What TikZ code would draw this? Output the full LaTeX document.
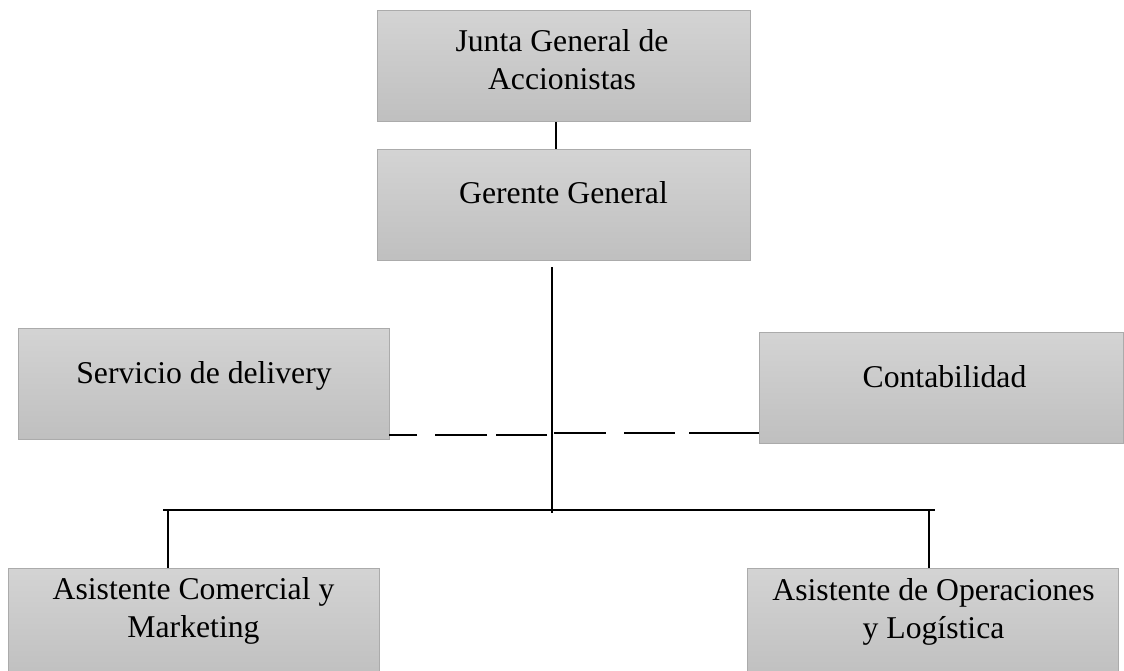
\documentclass[tikz,border=0pt]{standalone}
\usepackage{fontspec}
\setmainfont{Liberation Serif}
\usepackage{tikz}
\usetikzlibrary{shapes}

\begin{document}
\begin{tikzpicture}[x=1pt,y=-1pt,
  caja/.style={shape=rectangle,draw=black!33,line width=0.9pt,top color=black!17,bottom color=black!25,minimum width=#1,minimum height=111pt,inner sep=0pt},
  texto/.style={align=center,anchor=base,inner sep=0pt,font=\fontsize{31.7}{38}\selectfont},
  linea/.style={-,draw=black,line width=1.6pt}]
\useasboundingbox (0,0) rectangle (1124,671);

\node[caja=373pt] (0) at (563.5,66) {};
\node[caja=373pt] (1) at (563.5,205) {};
\node[caja=371pt] (2) at (203.5,383.5) {};
\node[caja=364pt] (3) at (941,387.5) {};
\node[caja=371pt] (4) at (193.5,623.5) {};
\node[caja=371pt] (5) at (932.5,623.5) {};

% multi-line texts sit on the baseline of their last line
\node[texto] (t0) at (562,90) {Junta General de\\Accionistas};
\node[texto] (t1) at (563.5,204) {Gerente General};
\node[texto] (t2) at (204,383) {Servicio de delivery};
\node[texto] (t3) at (944.5,387) {Contabilidad};
\node[texto] (t4) at (193.5,637) {Asistente Comercial y\\Marketing};
\node[texto] (t5) at (933.5,638) {Asistente de Operaciones\\y Logística};

\coordinate (c0) at (552,267);
\coordinate (c1) at (552,513);
\coordinate (c2) at (163,510);
\coordinate (c3) at (935,510);
\coordinate (c4) at (168,510);
\coordinate (c5) at (929,510);
\coordinate (c6) at (547,435);
\coordinate (c7) at (554,433);

\path [linea] ([xshift=-7.5pt]0.south) edge node {} ([xshift=-7.5pt]1.north);
\path [linea] (c0) edge node {} (c1);
\path [linea] (c2) edge node {} (c3);
\path [linea] (c4) edge node {} (c4 |- 4.north);
\path [linea] (c5) edge node {} (c5 |- 5.north);
\path [linea,dash pattern=on 51pt off 9pt on 52pt off 18pt on 60pt off 10pt] (c6) edge node {} (c6 -| 2.east);
\path [linea,dash pattern=on 52pt off 18pt on 51pt off 14pt on 90pt off 10pt] (c7) edge node {} (c7 -| 3.west);
\end{tikzpicture}
\end{document}
